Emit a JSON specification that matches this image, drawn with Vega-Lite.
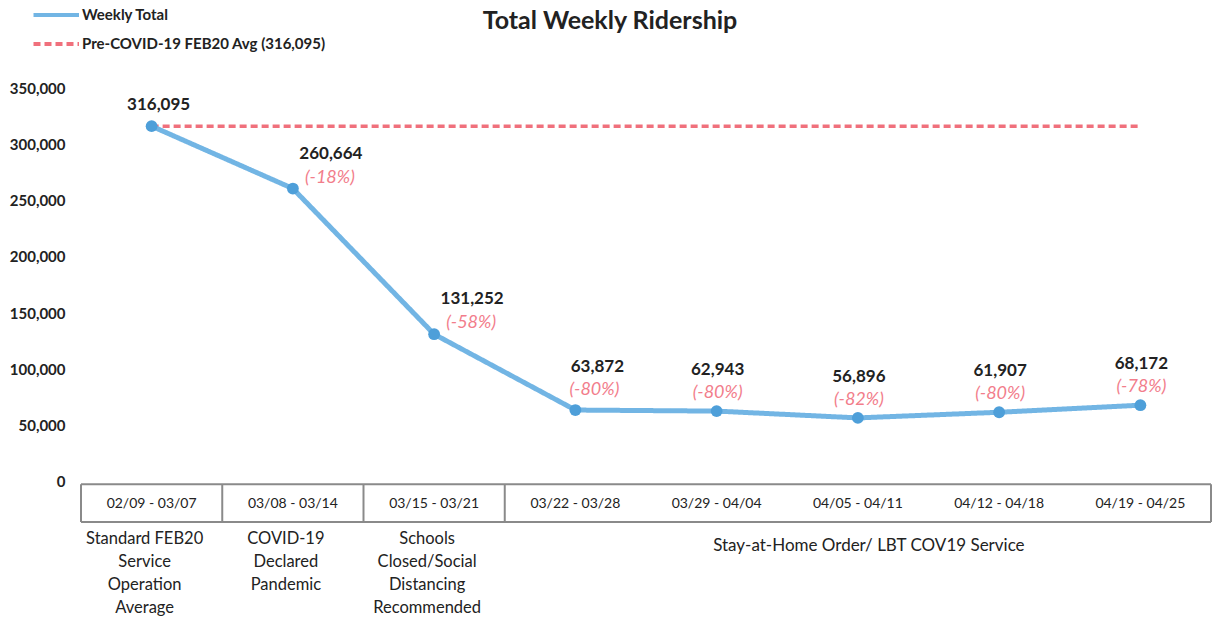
{
  "$schema": "https://vega.github.io/schema/vega-lite/v6.json",
  "width": 1130,
  "height": 529,
  "autosize": {"type": "none"},
  "padding": {"left": 81, "top": 88, "right": 3, "bottom": 3},
  "background": "white",
  "config": {
    "view": {"stroke": null},
    "font": "Lato",
    "axisY": {"domain": false, "ticks": false, "grid": false, "labelPadding": 16, "labelFont": "Lato", "labelFontWeight": "bold", "labelFontSize": 15, "labelColor": "#222222"}
  },
  "title": {"text": "Total Weekly Ridership", "fontSize": 25, "fontWeight": "bold", "color": "#222222", "font": "Lato", "anchor": "middle", "frame": "group", "offset": 0, "dy": 34, "dx": -36},
  "datasets": {
    "weekly": [
      {"week": "02/09 - 03/07", "riders": 316095, "series": "Weekly Total", "pct": ""},
      {"week": "03/08 - 03/14", "riders": 260664, "series": "Weekly Total", "pct": "(-18%)"},
      {"week": "03/15 - 03/21", "riders": 131252, "series": "Weekly Total", "pct": "(-58%)"},
      {"week": "03/22 - 03/28", "riders": 63872, "series": "Weekly Total", "pct": "(-80%)"},
      {"week": "03/29 - 04/04", "riders": 62943, "series": "Weekly Total", "pct": "(-80%)"},
      {"week": "04/05 - 04/11", "riders": 56896, "series": "Weekly Total", "pct": "(-82%)"},
      {"week": "04/12 - 04/18", "riders": 61907, "series": "Weekly Total", "pct": "(-80%)"},
      {"week": "04/19 - 04/25", "riders": 68172, "series": "Weekly Total", "pct": "(-78%)"}
    ],
    "avg": [
      {"week": "02/09 - 03/07", "riders": 316095, "series": "Pre-COVID-19 FEB20 Avg (316,095)"},
      {"week": "04/19 - 04/25", "riders": 316095, "series": "Pre-COVID-19 FEB20 Avg (316,095)"}
    ],
    "notes": [
      {"week": "02/09 - 03/07", "note": "Standard FEB20\nService\nOperation\nAverage"},
      {"week": "03/08 - 03/14", "note": "COVID-19\nDeclared\nPandemic"},
      {"week": "03/15 - 03/21", "note": "Schools\nClosed/Social\nDistancing\nRecommended"}
    ],
    "longnote": [
      {"week": "04/05 - 04/11", "note": "Stay-at-Home Order/ LBT COV19 Service"}
    ],
    "dividers": [
      {"week": "02/09 - 03/07"},
      {"week": "03/08 - 03/14"},
      {"week": "03/15 - 03/21"},
      {"week": "03/22 - 03/28"}
    ],
    "rightedge": [
      {"week": "04/19 - 04/25"}
    ]
  },
  "layer": [
    {
      "data": {"name": "avg"},
      "mark": {"type": "line", "strokeWidth": 3.5},
      "encoding": {
        "x": {
          "field": "week", "type": "nominal", "axis": null, "bandPosition": 0.5,
          "scale": {"type": "band", "paddingInner": 0, "paddingOuter": 0,
            "domain": ["02/09 - 03/07", "03/08 - 03/14", "03/15 - 03/21", "03/22 - 03/28", "03/29 - 04/04", "04/05 - 04/11", "04/12 - 04/18", "04/19 - 04/25"]}
        },
        "y": {"field": "riders", "type": "quantitative", "title": null,
          "scale": {"domain": [-120000, 350000], "nice": false, "zero": false},
          "axis": {"values": [0, 50000, 100000, 150000, 200000, 250000, 300000, 350000], "format": ",.0f", "title": null}},
        "color": {"field": "series", "type": "nominal",
          "scale": {"domain": ["Weekly Total", "Pre-COVID-19 FEB20 Avg (316,095)"], "range": ["#72B5E4", "#F0707C"]},
          "legend": {"title": null, "orient": "none", "legendX": -43, "legendY": -88, "symbolType": "M-1.5,0L2,0", "symbolSize": 676, "symbolStrokeWidth": 4, "labelFont": "Lato", "labelFontWeight": "bold", "labelFontSize": 15, "labelColor": "#222222", "rowPadding": 6, "labelOffset": 14, "labelLimit": 400}},
        "strokeDash": {"field": "series", "type": "nominal",
          "scale": {"domain": ["Weekly Total", "Pre-COVID-19 FEB20 Avg (316,095)"], "range": [[1, 0], [7, 4]]},
          "legend": {"title": null, "orient": "none", "legendX": -43, "legendY": -88, "symbolType": "M-1.5,0L2,0", "symbolSize": 676, "symbolStrokeWidth": 4, "labelFont": "Lato", "labelFontWeight": "bold", "labelFontSize": 15, "labelColor": "#222222", "rowPadding": 6, "labelOffset": 14, "labelLimit": 400}}
      }
    },
    {
      "data": {"name": "weekly"},
      "mark": {"type": "line", "strokeWidth": 5},
      "encoding": {
        "x": {"field": "week", "type": "nominal", "bandPosition": 0.5},
        "y": {"field": "riders", "type": "quantitative", "axis": {"values": [0, 50000, 100000, 150000, 200000, 250000, 300000, 350000], "format": ",.0f", "title": null}},
        "color": {"field": "series", "type": "nominal"},
        "strokeDash": {"field": "series", "type": "nominal"}
      }
    },
    {
      "data": {"name": "weekly"},
      "mark": {"type": "circle", "size": 140, "color": "#4E9FD9", "opacity": 1},
      "encoding": {
        "x": {"field": "week", "type": "nominal", "bandPosition": 0.5},
        "y": {"field": "riders", "type": "quantitative", "axis": {"values": [0, 50000, 100000, 150000, 200000, 250000, 300000, 350000], "format": ",.0f", "title": null}}
      }
    },
    {
      "data": {"name": "weekly"},
      "transform": [{"filter": {"field": "week", "oneOf": ["02/09 - 03/07"]}}],
      "mark": {"type": "text", "font": "Lato", "fontWeight": "bold", "fontSize": 17, "color": "#222222", "dx": 7, "dy": -21},
      "encoding": {
        "x": {"field": "week", "type": "nominal", "bandPosition": 0.5},
        "y": {"field": "riders", "type": "quantitative", "axis": {"values": [0, 50000, 100000, 150000, 200000, 250000, 300000, 350000], "format": ",.0f", "title": null}},
        "text": {"field": "riders", "type": "quantitative", "format": ",.0f"}
      }
    },
    {
      "data": {"name": "weekly"},
      "transform": [{"filter": {"field": "week", "oneOf": ["03/08 - 03/14", "03/15 - 03/21"]}}],
      "mark": {"type": "text", "font": "Lato", "fontWeight": "bold", "fontSize": 17, "color": "#222222", "dx": 38, "dy": -35},
      "encoding": {
        "x": {"field": "week", "type": "nominal", "bandPosition": 0.5},
        "y": {"field": "riders", "type": "quantitative", "axis": {"values": [0, 50000, 100000, 150000, 200000, 250000, 300000, 350000], "format": ",.0f", "title": null}},
        "text": {"field": "riders", "type": "quantitative", "format": ",.0f"}
      }
    },
    {
      "data": {"name": "weekly"},
      "transform": [{"filter": {"field": "week", "oneOf": ["03/08 - 03/14", "03/15 - 03/21"]}}],
      "mark": {"type": "text", "font": "Lato", "fontStyle": "italic", "fontSize": 18, "color": "#F27D8B", "dx": 37, "dy": -11},
      "encoding": {
        "x": {"field": "week", "type": "nominal", "bandPosition": 0.5},
        "y": {"field": "riders", "type": "quantitative", "axis": {"values": [0, 50000, 100000, 150000, 200000, 250000, 300000, 350000], "format": ",.0f", "title": null}},
        "text": {"field": "pct", "type": "nominal"}
      }
    },
    {
      "data": {"name": "weekly"},
      "transform": [{"filter": {"field": "week", "oneOf": ["03/22 - 03/28"]}}],
      "mark": {"type": "text", "font": "Lato", "fontWeight": "bold", "fontSize": 17, "color": "#222222", "dx": 22, "dy": -43},
      "encoding": {
        "x": {"field": "week", "type": "nominal", "bandPosition": 0.5},
        "y": {"field": "riders", "type": "quantitative", "axis": {"values": [0, 50000, 100000, 150000, 200000, 250000, 300000, 350000], "format": ",.0f", "title": null}},
        "text": {"field": "riders", "type": "quantitative", "format": ",.0f"}
      }
    },
    {
      "data": {"name": "weekly"},
      "transform": [{"filter": {"field": "week", "oneOf": ["03/22 - 03/28"]}}],
      "mark": {"type": "text", "font": "Lato", "fontStyle": "italic", "fontSize": 18, "color": "#F27D8B", "dx": 19, "dy": -20},
      "encoding": {
        "x": {"field": "week", "type": "nominal", "bandPosition": 0.5},
        "y": {"field": "riders", "type": "quantitative", "axis": {"values": [0, 50000, 100000, 150000, 200000, 250000, 300000, 350000], "format": ",.0f", "title": null}},
        "text": {"field": "pct", "type": "nominal"}
      }
    },
    {
      "data": {"name": "weekly"},
      "transform": [{"filter": {"field": "week", "oneOf": ["03/29 - 04/04", "04/05 - 04/11", "04/12 - 04/18", "04/19 - 04/25"]}}],
      "mark": {"type": "text", "font": "Lato", "fontWeight": "bold", "fontSize": 17, "color": "#222222", "dx": 1, "dy": -41},
      "encoding": {
        "x": {"field": "week", "type": "nominal", "bandPosition": 0.5},
        "y": {"field": "riders", "type": "quantitative", "axis": {"values": [0, 50000, 100000, 150000, 200000, 250000, 300000, 350000], "format": ",.0f", "title": null}},
        "text": {"field": "riders", "type": "quantitative", "format": ",.0f"}
      }
    },
    {
      "data": {"name": "weekly"},
      "transform": [{"filter": {"field": "week", "oneOf": ["03/29 - 04/04", "04/05 - 04/11", "04/12 - 04/18", "04/19 - 04/25"]}}],
      "mark": {"type": "text", "font": "Lato", "fontStyle": "italic", "fontSize": 18, "color": "#F27D8B", "dx": 1, "dy": -18},
      "encoding": {
        "x": {"field": "week", "type": "nominal", "bandPosition": 0.5},
        "y": {"field": "riders", "type": "quantitative", "axis": {"values": [0, 50000, 100000, 150000, 200000, 250000, 300000, 350000], "format": ",.0f", "title": null}},
        "text": {"field": "pct", "type": "nominal"}
      }
    },
    {
      "data": {"values": [{}]},
      "mark": {"type": "rule", "color": "#8A8A8A", "strokeWidth": 2},
      "encoding": {"y": {"datum": -2000, "axis": {"values": [0, 50000, 100000, 150000, 200000, 250000, 300000, 350000], "format": ",.0f", "title": null}}}
    },
    {
      "data": {"values": [{}]},
      "mark": {"type": "rule", "color": "#8A8A8A", "strokeWidth": 2},
      "encoding": {"y": {"datum": -35500, "axis": {"values": [0, 50000, 100000, 150000, 200000, 250000, 300000, 350000], "format": ",.0f", "title": null}}}
    },
    {
      "data": {"name": "dividers"},
      "mark": {"type": "rule", "color": "#8A8A8A", "strokeWidth": 2},
      "encoding": {
        "x": {"field": "week", "type": "nominal", "bandPosition": 0},
        "y": {"datum": -2000, "axis": {"values": [0, 50000, 100000, 150000, 200000, 250000, 300000, 350000], "format": ",.0f", "title": null}},
        "y2": {"datum": -35500}
      }
    },
    {
      "data": {"name": "rightedge"},
      "mark": {"type": "rule", "color": "#8A8A8A", "strokeWidth": 2},
      "encoding": {
        "x": {"field": "week", "type": "nominal", "bandPosition": 1},
        "y": {"datum": -2000, "axis": {"values": [0, 50000, 100000, 150000, 200000, 250000, 300000, 350000], "format": ",.0f", "title": null}},
        "y2": {"datum": -35500}
      }
    },
    {
      "data": {"name": "weekly"},
      "mark": {"type": "text", "font": "Lato", "fontSize": 14, "color": "#222222"},
      "encoding": {
        "x": {"field": "week", "type": "nominal", "bandPosition": 0.5},
        "y": {"datum": -19500, "axis": {"values": [0, 50000, 100000, 150000, 200000, 250000, 300000, 350000], "format": ",.0f", "title": null}},
        "text": {"field": "week", "type": "nominal"}
      }
    },
    {
      "data": {"name": "notes"},
      "mark": {"type": "text", "font": "Lato", "fontSize": 16.5, "color": "#222222", "baseline": "top", "lineBreak": "\n", "lineHeight": 23, "dx": -7},
      "encoding": {
        "x": {"field": "week", "type": "nominal", "bandPosition": 0.5},
        "y": {"datum": -44000, "axis": {"values": [0, 50000, 100000, 150000, 200000, 250000, 300000, 350000], "format": ",.0f", "title": null}},
        "text": {"field": "note", "type": "nominal"}
      }
    },
    {
      "data": {"name": "longnote"},
      "mark": {"type": "text", "font": "Lato", "fontSize": 17, "color": "#222222", "baseline": "top", "dx": 11},
      "encoding": {
        "x": {"field": "week", "type": "nominal", "bandPosition": 0.5},
        "y": {"datum": -50000, "axis": {"values": [0, 50000, 100000, 150000, 200000, 250000, 300000, 350000], "format": ",.0f", "title": null}},
        "text": {"field": "note", "type": "nominal"}
      }
    }
  ]
}
